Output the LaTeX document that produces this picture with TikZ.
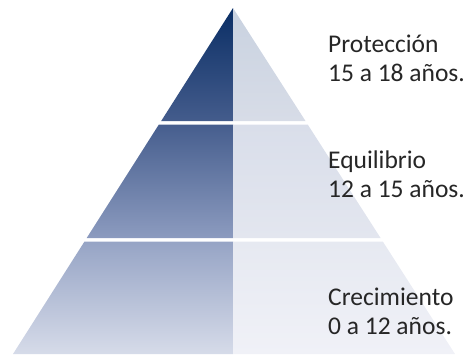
\documentclass[tikz,border=0pt]{standalone}
\usepackage{fontspec}
\setmainfont{Carlito}
\begin{document}
\begin{tikzpicture}[x=1pt,y=-1pt,
  lbl/.style={anchor=base west,align=left,inner sep=0pt,font=\fontsize{25.5}{29}\selectfont,text=black!85}]
\useasboundingbox (0,0) rectangle (469,354);
% segment 1: y 8..121
\shade[top color={rgb,255:red,10;green,46;blue,101},bottom color={rgb,255:red,68;green,92;blue,140}]
  (233,8) -- (161.2,121) -- (233,121) -- cycle;
\shade[top color={rgb,255:red,201;green,210;blue,224},bottom color={rgb,255:red,215;green,220;blue,231}]
  (233,8) -- (305.5,121) -- (233,121) -- cycle;
% segment 2: y 124.5..238
\shade[top color={rgb,255:red,70;green,94;blue,142},bottom color={rgb,255:red,140;green,155;blue,191}]
  (158.9,124.5) -- (86.7,238) -- (233,238) -- (233,124.5) -- cycle;
\shade[top color={rgb,255:red,217;green,222;blue,234},bottom color={rgb,255:red,227;green,230;blue,239}]
  (307.7,124.5) -- (380.6,238) -- (233,238) -- (233,124.5) -- cycle;
% segment 3: y 241.5..354
\shade[top color={rgb,255:red,150;green,164;blue,197},bottom color={rgb,255:red,214;green,219;blue,233}]
  (84.5,241.5) -- (13,354) -- (233,354) -- (233,241.5) -- cycle;
\shade[top color={rgb,255:red,230;green,233;blue,241},bottom color={rgb,255:red,240;green,241;blue,247}]
  (382.8,241.5) -- (455,354) -- (233,354) -- (233,241.5) -- cycle;
\node[lbl] (t1) at (328,81) {Protección\\15 a 18 años.};
\node[lbl] (t2) at (328,197) {Equilibrio\\12 a 15 años.};
\node[lbl] (t3) at (328,334) {Crecimiento\\0 a 12 años.};
\end{tikzpicture}
\end{document}
